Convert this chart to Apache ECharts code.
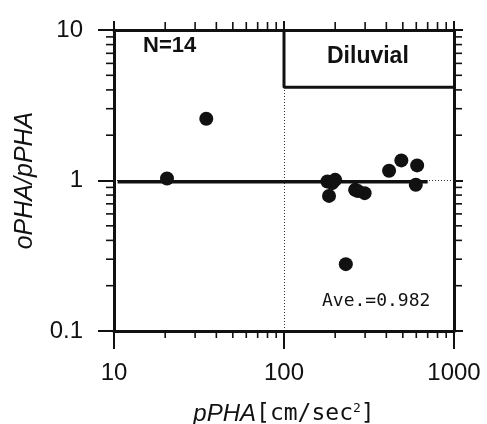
<!DOCTYPE html>
<html>
<head>
<meta charset="utf-8">
<script src="https://cdn.jsdelivr.net/npm/echarts@6/dist/echarts.min.js"></script>
<style>html,body{margin:0;padding:0;background:#fff}#c{width:487px;height:424px}</style>
</head>
<body>
<div id="c"></div>
<script>
// Data
const pPHA = [20.5, 34.9, 180, 200, 184, 192, 262, 298, 231, 415, 490, 607, 596, 272];
const ratio = [1.03, 2.57, 0.985, 1.01, 0.79, 0.96, 0.867, 0.824, 0.278, 1.16, 1.36, 1.26, 0.936, 0.85];
const aveValue = 0.982;
const aveLineX = [10.5, 700];
const diluvialBoxX = [100, 1000];
const diluvialBoxY = [4.17, 10];
const xMinorTicks = [20, 30, 40, 50, 60, 70, 80, 90, 200, 300, 400, 500, 600, 700, 800, 900];
const yMinorTicks = [0.2, 0.3, 0.4, 0.5, 0.6, 0.7, 0.8, 0.9, 2, 3, 4, 5, 6, 7, 8, 9];
const xTickLabels = ['10', '100', '1000'];
const yTickLabels = ['0.1', '1', '10'];

const INK = '#111';
const chart = echarts.init(document.getElementById('c'), null, {renderer: 'canvas'});

function minorTickSeries(values, isX) {
  return {
    type: 'custom',
    xAxisIndex: 0, yAxisIndex: 0,
    silent: true, clip: false, z: 5,
    data: values.map(v => isX ? [v, 1] : [10, v]),
    encode: {x: 0, y: 1},
    renderItem: function (params, api) {
      const cs = params.coordSys;
      const p = api.coord([api.value(0), api.value(1)]);
      const st = {stroke: INK, lineWidth: 1.6};
      if (isX) {
        return {type: 'group', children: [
          {type: 'line', shape: {x1: p[0], y1: cs.y + cs.height, x2: p[0], y2: cs.y + cs.height + 7}, style: st},
          {type: 'line', shape: {x1: p[0], y1: cs.y, x2: p[0], y2: cs.y - 8}, style: st}
        ]};
      }
      return {type: 'group', children: [
        {type: 'line', shape: {x1: cs.x, y1: p[1], x2: cs.x - 8, y2: p[1]}, style: st},
        {type: 'line', shape: {x1: cs.x + cs.width, y1: p[1], x2: cs.x + cs.width + 8, y2: p[1]}, style: st}
      ]};
    }
  };
}

const labelFont = {fontFamily: 'Liberation Sans', fontSize: 24, color: INK};

const option = {
  backgroundColor: '#fff',
  animation: false,
  grid: {left: 114, right: 33, top: 30, bottom: 93, show: false, containLabel: false, outerBoundsMode: 'none'},
  xAxis: [{
    type: 'log', logBase: 10, min: 10, max: 1000, position: 'bottom',
    axisLine: {show: true, lineStyle: {color: INK, width: 3}},
    axisTick: {show: true, length: 18, lineStyle: {color: INK, width: 2}},
    axisLabel: Object.assign({margin: 30, formatter: v => xTickLabels.find(t => Number(t) === Math.round(v)) || ''}, labelFont),
    splitLine: {show: true, lineStyle: {color: '#333', width: 1, type: [1, 2]}},
    name: '{i|pPHA}{m|[cm/sec}{s|2}{m|]}',
    nameLocation: 'middle', nameGap: 71,
    nameTextStyle: {rich: {
      i: {fontFamily: 'Liberation Sans', fontStyle: 'italic', fontSize: 24, color: INK},
      m: {fontFamily: 'DejaVu Sans Mono', fontSize: 23, color: INK},
      s: {fontFamily: 'DejaVu Sans Mono', fontSize: 13, color: INK, padding: [0, 0, 12, 0]}
    }}
  }, {
    type: 'log', logBase: 10, min: 10, max: 1000, position: 'top',
    axisLine: {show: true, lineStyle: {color: INK, width: 3}},
    axisTick: {show: true, length: 9, lineStyle: {color: INK, width: 2}},
    axisLabel: {show: false}, splitLine: {show: false}
  }],
  yAxis: [{
    type: 'log', logBase: 10, min: 0.1, max: 10, position: 'left',
    axisLine: {show: true, lineStyle: {color: INK, width: 3}},
    axisTick: {show: true, length: 16, lineStyle: {color: INK, width: 2}},
    axisLabel: Object.assign({margin: 31, formatter: v => yTickLabels.find(t => Math.abs(Number(t) - v) < 1e-6 * Math.max(1, v)) || ''}, labelFont),
    splitLine: {show: true, lineStyle: {color: '#333', width: 1, type: [1, 2]}},
    name: 'oPHA/pPHA', nameLocation: 'middle', nameGap: 76,
    nameTextStyle: {fontFamily: 'Liberation Sans', fontStyle: 'italic', fontSize: 25, color: INK}
  }, {
    type: 'log', logBase: 10, min: 0.1, max: 10, position: 'right',
    axisLine: {show: true, lineStyle: {color: INK, width: 3}},
    axisTick: {show: true, length: 9, lineStyle: {color: INK, width: 2}},
    axisLabel: {show: false}, splitLine: {show: false}
  }],
  series: [
    minorTickSeries(xMinorTicks, true),
    minorTickSeries(yMinorTicks, false),
    {
      type: 'line', xAxisIndex: 0, yAxisIndex: 0, silent: true, z: 3,
      data: [[diluvialBoxX[0], diluvialBoxY[1]], [diluvialBoxX[0], diluvialBoxY[0]], [diluvialBoxX[1], diluvialBoxY[0]]],
      symbol: 'none', lineStyle: {color: INK, width: 3}
    },
    {
      type: 'line', xAxisIndex: 0, yAxisIndex: 0, silent: true, z: 3,
      data: aveLineX.map(x => [x, aveValue]),
      symbol: 'none', lineStyle: {color: INK, width: 3.5}
    },
    {
      type: 'scatter', xAxisIndex: 0, yAxisIndex: 0, z: 4,
      data: pPHA.map((x, i) => [x, ratio[i]]),
      symbol: 'circle', symbolSize: 14,
      itemStyle: {color: INK, opacity: 1}
    }
  ],
  graphic: [
    {type: 'text', left: 143, top: 35, style: {text: 'N=14', font: 'bold 22px "Liberation Sans"', fill: INK}},
    {type: 'text', left: 327, top: 45, style: {text: 'Diluvial', font: 'bold 23px "Liberation Sans"', fill: INK}},
    {type: 'text', left: 322, top: 292, style: {text: 'Ave.=0.982', font: '18px "DejaVu Sans Mono"', fill: INK}}
  ]
};
chart.setOption(option);
</script>
</body>
</html>
